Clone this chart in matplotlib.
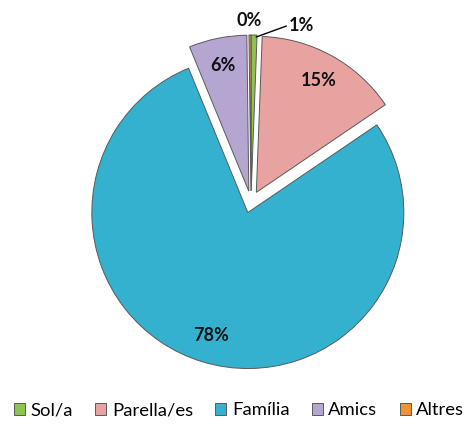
import numpy as np
import matplotlib
matplotlib.use('Agg')
import matplotlib.pyplot as plt

# dades
categories = ["Sol/a", "Parella/es", "Família", "Amics", "Altres"]
values     = [0.6, 14.9, 78.3, 6.0, 0.2]
colors     = ["#8CC44E", "#E8A3A1", "#33B1CF", "#B5A6D1", "#F1913A"]

plt.rcParams['font.family'] = ['Lato', 'DejaVu Sans']

fig = plt.figure(figsize=(4.66, 4.30), dpi=100)
ax = fig.add_axes([0, 0, 1, 1])

cx, cy, r = 251, 228, 156
expl = 11  # en píxels (pie no l'escala amb el radi)
total = sum(values)

def pct_label(v):
    return f"{round(v / total * 100):.0f}%"

wedges, _ = ax.pie(values, colors=colors, startangle=90, counterclock=False,
                   explode=[expl] * len(values), center=(cx, cy), radius=r,
                   frame=True,
                   wedgeprops=dict(edgecolor='#5a5a5a', linewidth=0.7))

fs = 13
# etiquetes de percentatge
for w, v in zip(wedges, values):
    mid = np.deg2rad((w.theta1 + w.theta2) / 2)
    wx, wy = w.center
    if v >= 3:
        ax.text(wx + 0.82 * r * np.cos(mid), wy + 0.82 * r * np.sin(mid),
                pct_label(v), ha='center', va='center',
                fontsize=fs, fontweight='bold', color='#111111')

# 0% (Altres) i 1% (Sol/a) a fora
w = wedges[4]
mid = np.deg2rad((w.theta1 + w.theta2) / 2)
ax.text(w.center[0] + 1.09 * r * np.cos(mid) - 1, w.center[1] + 1.09 * r * np.sin(mid),
        pct_label(values[4]), ha='center', va='center',
        fontsize=fs, fontweight='bold', color='#111111')

w = wedges[0]
mid = np.deg2rad((w.theta1 + w.theta2) / 2)
tip = (w.center[0] + r * np.cos(mid) + 2, w.center[1] + r * np.sin(mid) - 2)
ax.annotate(pct_label(values[0]), xy=tip, xytext=(tip[0] + 33, tip[1] + 12),
            ha='left', va='center', fontsize=fs, fontweight='bold', color='#111111',
            arrowprops=dict(arrowstyle='-', color='black', lw=1,
                            shrinkA=0, shrinkB=0,
                            connectionstyle='angle,angleA=0,angleB=20,rad=0'))

leg = ax.legend(wedges, categories, loc='center', bbox_to_anchor=(0.513, 0.046),
                ncol=5, frameon=False, fontsize=13.3, handlelength=0.6,
                handleheight=0.6, handletextpad=0.3, columnspacing=1.2)

ax.set_xlim(0, 466)
ax.set_ylim(0, 430)
ax.set_aspect('equal')
ax.axis('off')

fig.savefig('out.png', dpi=100, facecolor='white')
